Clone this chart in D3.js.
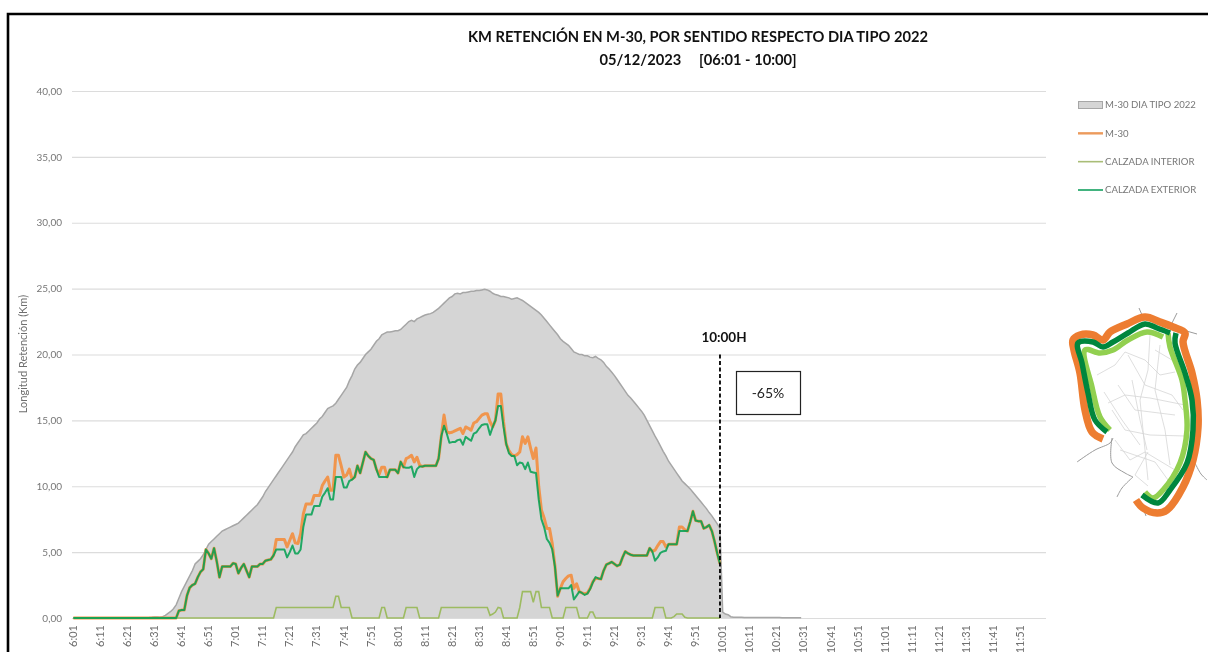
<!DOCTYPE html>
<html>
<head>
<meta charset="utf-8">
<script src="https://cdn.jsdelivr.net/npm/d3@7"></script>
<style>
  body { margin: 0; background: #fff; }
  svg { display: block; font-family: Lato, sans-serif; filter: blur(0.4px); }
</style>
</head>
<body>
<div id="chart"></div>
<script>
var width = 1208,
    height = 652;

// minute by minute from 6:01
var tipo2022 = [
  0,0,0,0,0,0,0,0,0,0,
  0,0,0,0,0,0,0,0,0,0,
  0,0,0,0,0,0,0,0.02,0.03,0.05,
  0.08,0.07,0.05,0.1,0.2,0.35,0.5,0.7,1.0,1.5,
  2.0,2.4,2.8,3.2,3.6,4.1,4.3,4.5,4.8,5.2,
  5.6,5.8,6.0,6.2,6.4,6.6,6.7,6.8,6.9,7.0,
  7.1,7.2,7.4,7.6,7.8,8.0,8.2,8.4,8.6,8.9,
  9.2,9.6,9.9,10.2,10.5,10.8,11.1,11.4,11.7,12.0,
  12.3,12.6,13.0,13.3,13.6,13.9,14.0,14.2,14.4,14.6,
  14.8,15.1,15.3,15.6,15.9,16.0,16.1,16.3,16.6,16.9,
  17.2,17.5,18.0,18.4,18.9,19.2,19.4,19.7,20.0,20.2,
  20.4,20.7,21.0,21.2,21.5,21.6,21.7,21.7,21.75,21.8,
  21.8,21.9,22.1,22.3,22.5,22.6,22.5,22.7,22.8,22.9,
  23.0,23.05,23.1,23.2,23.35,23.5,23.7,23.9,24.1,24.3,
  24.4,24.6,24.65,24.6,24.7,24.7,24.75,24.8,24.8,24.85,
  24.85,24.9,24.95,24.9,24.8,24.65,24.55,24.5,24.4,24.4,
  24.35,24.3,24.2,24.25,24.3,24.2,24.1,23.95,23.8,23.65,
  23.5,23.35,23.2,23.0,22.75,22.5,22.25,22.0,21.75,21.5,
  21.2,21.0,20.85,20.7,20.45,20.2,20.1,20.0,20.0,19.9,
  19.9,19.8,19.75,19.85,19.7,19.6,19.4,19.1,18.9,18.65,
  18.4,18.1,17.8,17.5,17.2,16.9,16.7,16.45,16.2,15.95,
  15.7,15.4,15.0,14.6,14.2,13.8,13.45,13.05,12.65,12.3,
  11.9,11.6,11.3,11.0,10.7,10.4,10.2,10.0,9.8,9.55,
  9.3,9.05,8.8,8.55,8.3,8.0,7.75,7.45,7.15,6.8,
  0.45,0.3,0.25,0.1,0.05,0.05,0.05,0.05,0.04,0.04,
  0.04,0.04,0.04,0.03,0.03,0.03,0.03,0.03,0.03,0.03,
  0.03,0.03,0.02,0.02,0.02,0.02,0.02,0.02,0.02,0.02
];
var m30 = [
  0,0,0,0,0,0,0,0,0,0,
  0,0,0,0,0,0,0,0,0,0,
  0,0,0,0,0,0,0,0,0,0,
  0,0,0,0,0,0,0,0,0,0.55,
  0.6,0.6,1.7,2.3,2.5,2.6,3.1,3.5,3.7,5.2,
  4.9,4.5,5.3,4.3,3.1,3.9,3.9,3.9,3.9,4.15,
  4.1,3.4,3.8,4.1,3.6,3.1,3.9,3.9,3.9,4.1,
  4.1,4.35,4.4,4.45,4.75,5.95,5.95,5.95,5.95,5.4,
  5.9,6.4,5.7,5.65,6.4,7.9,8.65,8.65,8.65,9.3,
  9.3,9.3,10.05,10.4,10.7,9.7,9.7,12.35,12.35,11.55,
  10.7,10.85,11.3,10.55,10.7,11.55,11.0,11.8,12.6,12.3,
  12.1,12.0,11.3,10.9,11.45,11.45,10.7,11.25,11.25,11.25,
  11.0,11.85,11.45,12.1,12.2,12.35,11.85,12.2,11.6,11.5,
  11.55,11.55,11.55,11.55,11.55,12.1,13.8,15.4,14.15,14.05,
  14.1,14.2,14.3,14.4,14.0,14.5,14.4,14.25,14.8,14.9,
  15.15,15.4,15.5,15.5,14.9,14.5,15.0,17.0,17.0,14.9,
  13.2,12.7,12.4,12.3,12.4,12.6,13.75,13.25,13.75,12.9,
  12.1,12.9,10.0,8.2,7.6,6.8,6.8,5.65,3.95,1.65,
  2.25,2.75,3.0,3.2,3.25,2.25,2.6,2.0,1.9,1.85,
  1.9,2.25,2.75,3.0,3.0,2.95,3.6,4.05,4.15,4.25,
  4.1,3.95,4.05,4.6,5.05,4.9,4.8,4.75,4.75,4.75,
  4.75,4.75,4.75,5.3,5.05,5.15,5.5,5.8,5.8,5.4,
  5.6,5.6,5.6,5.6,6.9,6.9,6.7,6.6,7.3,8.1,
  7.4,7.35,7.35,6.8,6.9,7.05,6.6,5.8,4.9,4.1
];
var interior = [
  0,0,0,0,0,0,0,0,0,0,
  0,0,0,0,0,0,0,0,0,0,
  0,0,0,0,0,0,0,0,0,0,
  0,0,0,0,0,0,0,0,0,0,
  0,0,0,0,0,0,0,0,0,0,
  0,0,0,0,0,0,0,0,0,0,
  0,0,0,0,0,0,0,0,0,0,
  0,0,0,0,0,0.8,0.8,0.8,0.8,0.8,
  0.8,0.8,0.8,0.8,0.8,0.8,0.8,0.8,0.8,0.8,
  0.8,0.8,0.8,0.8,0.8,0.8,0.8,1.65,1.65,0.8,
  0.8,0.8,0.8,0,0,0,0,0,0,0,
  0,0,0,0,0.8,0.8,0,0,0,0,
  0,0,0,0.8,0.8,0.8,0.8,0.8,0,0,
  0,0,0,0,0,0,0.8,0.8,0.8,0.8,
  0.8,0.8,0.8,0.8,0.8,0.8,0.8,0.8,0.8,0.8,
  0.8,0.8,0.8,0.8,0.2,0.3,0.45,0.8,0.75,0,
  0,0,0,0,0,0.8,2.0,2.0,2.0,2.0,
  1.2,2.0,2.0,0.8,0.8,0.8,0.8,0,0,0,
  0,0,0.8,0.8,0.8,0.8,0.8,0,0,0,
  0,0.45,0.45,0,0,0,0,0,0,0,
  0,0,0,0,0,0,0,0,0,0,
  0,0,0,0,0,0.8,0.8,0.8,0.8,0,
  0,0,0.1,0.3,0.3,0.3,0.05,0,0,0,
  0,0,0,0,0,0,0,0,0,0
];
var exterior = [
  0,0,0,0,0,0,0,0,0,0,
  0,0,0,0,0,0,0,0,0,0,
  0,0,0,0,0,0,0,0,0,0,
  0,0,0,0,0,0,0,0,0,0.55,
  0.6,0.6,1.7,2.3,2.5,2.6,3.1,3.5,3.7,5.2,
  4.9,4.5,5.3,4.3,3.1,3.9,3.9,3.9,3.9,4.15,
  4.1,3.4,3.8,4.1,3.6,3.1,3.9,3.9,3.9,4.1,
  4.1,4.35,4.4,4.45,4.75,5.2,5.2,5.2,5.2,4.6,
  5.0,5.5,4.9,4.9,5.2,6.9,7.85,7.85,7.85,8.5,
  8.5,8.5,9.2,9.5,9.85,9.0,9.0,10.7,10.7,10.7,
  9.9,9.9,10.4,10.5,10.7,11.55,11.0,11.8,12.6,12.3,
  12.1,12.0,11.3,10.7,10.7,10.7,10.7,11.25,11.25,11.25,
  11.0,11.85,11.45,11.4,11.4,11.5,10.7,11.3,11.5,11.5,
  11.55,11.55,11.55,11.55,11.55,12.1,13.8,14.6,14.0,13.3,
  13.35,13.35,13.5,13.55,13.15,13.75,13.6,13.45,14.0,14.1,
  14.4,14.65,14.7,14.7,13.9,14.5,15.0,16.1,16.1,14.5,
  13.2,12.5,12.3,12.3,11.6,11.8,11.75,11.3,11.8,11.1,
  11.05,11.0,9.0,7.5,6.9,6.0,5.7,5.2,3.9,1.7,
  2.25,2.25,2.25,2.25,2.5,1.4,1.7,2.0,1.9,1.75,
  1.85,2.2,2.7,3.1,3.0,2.95,3.6,4.05,4.15,4.25,
  4.1,3.95,4.05,4.6,5.05,4.9,4.8,4.75,4.75,4.75,
  4.75,4.75,4.75,5.3,5.05,4.35,4.6,4.95,5.05,5.1,
  5.6,5.6,5.6,5.6,6.6,6.6,6.6,6.6,7.3,8.1,
  7.4,7.35,7.35,6.8,6.9,7.05,6.6,5.8,4.9,4.1
];

var yTicks = [0, 5, 10, 15, 20, 25, 30, 35, 40];
var legendNames = ["M-30 DIA TIPO 2022", "M-30", "CALZADA INTERIOR", "CALZADA EXTERIOR"];
var titleLines = ["KM RETENCIÓN EN M-30, POR SENTIDO RESPECTO DIA TIPO 2022", "05/12/2023     [06:01 - 10:00]"];

// ring map on the right, outlines traced by hand
var mapOrange = [[1103,439],[1092,432],[1085,410],[1080,373],[1074,350],[1073,340],[1080,335],[1093,335],[1103,340],[1110,332],[1127,324],[1145,317],[1160,322],[1173,327],[1185,333],[1183,342],[1192,373],[1197,400],[1198,427],[1193,460],[1183,487],[1167,510],[1157,513],[1143,508],[1136,500]];
var mapDarkW = [[1107,432],[1095,420],[1088,393],[1082,363],[1078,343],[1093,342],[1103,347],[1113,342],[1128,333],[1145,324],[1157,328],[1170,333]];
var mapDarkE = [[1176,333],[1175,343],[1185,373],[1192,400],[1193,430],[1187,463],[1170,490],[1158,503],[1142,495]];
var mapLightW = [[1110,430],[1100,417],[1092,387],[1085,350],[1100,353],[1113,350],[1128,340],[1147,332],[1163,337]];
var mapLightE = [[1168,333],[1170,347],[1182,380],[1185,400],[1187,430],[1180,463],[1163,490],[1153,498],[1145,492]];
var roadsOut = [
  [[1077,462],[1095,450],[1110,443],[1113,438]],
  [[1195,463],[1201,474],[1207,480]],
  [[1117,497],[1122,488],[1133,477]],
  [[1112,438],[1112,463],[1125,473],[1133,477]],
  [[1139,308],[1142,315]],
  [[1177,313],[1172,323]],
  [[1183,330],[1197,334]],
  [[1143,508],[1146,516]]
];
var roadsIn = [
  [[1108,403],[1125,395],[1150,398],[1185,405]],
  [[1097,375],[1115,365],[1125,352],[1145,360],[1160,375],[1175,372]],
  [[1150,335],[1148,370],[1140,400],[1145,450],[1148,480]],
  [[1132,380],[1140,420],[1147,450]],
  [[1112,410],[1125,430],[1150,435],[1185,436]],
  [[1115,440],[1130,460],[1145,452],[1175,470]],
  [[1128,355],[1145,385],[1172,395],[1183,410]],
  [[1160,345],[1155,390],[1165,430],[1170,465]],
  [[1148,452],[1135,475],[1148,486]],
  [[1118,385],[1135,410],[1175,415]],
  [[1104,392],[1122,420],[1140,445]],
  [[1155,350],[1172,360]],
  [[1120,450],[1155,462],[1168,480]]
];

var minutes = d3.range(360).map(function (i) {
  var t = 361 + i;
  return Math.floor(t / 60) + ":" + d3.format("02")(t % 60);
});

var x = d3.scaleBand().domain(minutes).range([72, 1046]);
var y = d3.scaleLinear().domain([0, 40]).range([618, 91]);
var cx = function (d, i) { return x(minutes[i]) + x.bandwidth() / 2; };

var svg = d3.select("#chart").append("svg")
    .attr("width", width)
    .attr("height", height)
    .attr("viewBox", [0, 0, width, height]);

// frame, only left and top are in the picture
svg.append("path")
    .attr("d", "M8,652V14H1208")
    .attr("fill", "none")
    .attr("stroke", "#000")
    .attr("stroke-width", 2.6);

var yAxis = svg.append("g")
    .attr("transform", "translate(72,0)")
    .call(d3.axisLeft(y).tickValues(yTicks).tickSize(0).tickPadding(10)
        .tickFormat(function (d) { return d3.format(".2f")(d).replace(".", ","); }));
yAxis.select(".domain").remove();
yAxis.selectAll("text")
    .attr("font-family", "Lato, sans-serif")
    .attr("font-size", 10)
    .attr("fill", "#777");
yAxis.selectAll("line")
    .attr("x2", 974)
    .attr("stroke", "#dcdcdc")
    .attr("stroke-width", 1.2);

var xAxis = svg.append("g")
    .attr("transform", "translate(0,618)")
    .call(d3.axisBottom(x).tickValues(minutes.filter(function (d, i) { return i % 10 === 0; })).tickSize(0));
xAxis.select(".domain").remove();
xAxis.selectAll("text")
    .attr("font-family", "Lato, sans-serif")
    .attr("font-size", 11)
    .attr("fill", "#6f6f6f")
    .attr("text-anchor", "end")
    .attr("dy", "0.33em")
    .attr("y", 0)
    .attr("transform", "translate(0,7) rotate(-90)");

svg.append("path")
    .datum(tipo2022)
    .attr("fill", "#d5d5d5")
    .attr("d", d3.area().x(cx).y0(y(0)).y1(function (d) { return y(d); }));

svg.append("path")
    .datum(tipo2022)
    .attr("fill", "none")
    .attr("stroke", "#a6a6a6")
    .attr("stroke-width", 1.5)
    .attr("d", d3.line().x(cx).y(function (d) { return y(d); }));

var line = d3.line().x(cx).y(function (d) { return y(d); });

svg.append("path").datum(m30)
    .attr("fill", "none")
    .attr("stroke", "#f0954d")
    .attr("stroke-width", 3)
    .attr("stroke-linejoin", "round")
    .attr("d", line);

svg.append("path").datum(interior)
    .attr("fill", "none")
    .attr("stroke", "#9dbb61")
    .attr("stroke-width", 1.6)
    .attr("d", line);

svg.append("path").datum(exterior)
    .attr("fill", "none")
    .attr("stroke", "#00a050")
    .attr("stroke-opacity", 0.85)
    .attr("stroke-width", 2)
    .attr("stroke-linejoin", "round")
    .attr("d", line);

// 10:00 marker
var x10 = x("10:00") + x.bandwidth() / 2;
svg.append("line")
    .attr("x1", x10).attr("x2", x10)
    .attr("y1", y(20)).attr("y2", y(0))
    .attr("stroke", "#000")
    .attr("stroke-width", 1.8)
    .attr("stroke-dasharray", "4,2.5");

svg.append("text")
    .attr("x", 724).attr("y", 342)
    .attr("text-anchor", "middle")
    .attr("font-size", 13.5)
    .attr("font-weight", 700)
    .attr("fill", "#111")
    .text("10:00H");

svg.append("rect")
    .attr("x", 736.5).attr("y", 371.5)
    .attr("width", 64).attr("height", 43)
    .attr("fill", "#fff")
    .attr("stroke", "#222")
    .attr("stroke-width", 1.2);

svg.append("text")
    .attr("x", 768).attr("y", 398)
    .attr("text-anchor", "middle")
    .attr("font-size", 14)
    .attr("fill", "#222")
    .text("-65%");

svg.append("g")
    .attr("text-anchor", "middle")
    .attr("font-size", 14.7)
    .attr("font-weight", 700)
    .attr("fill", "#111")
    .selectAll("text")
    .data(titleLines)
    .join("text")
    .attr("xml:space", "preserve")
    .style("white-space", "pre")
    .attr("x", 698)
    .attr("y", function (d, i) { return 42 + i * 22.5; })
    .text(function (d) { return d; });

svg.append("text")
    .attr("transform", "translate(27,354) rotate(-90)")
    .attr("text-anchor", "middle")
    .attr("font-size", 11)
    .attr("fill", "#6f6f6f")
    .text("Longitud Retención (Km)");

// legend
var legendY = d3.scalePoint().domain(legendNames).range([105, 190]);
var legend = svg.append("g").selectAll("g")
    .data(legendNames)
    .join("g")
    .attr("transform", function (d) { return "translate(1078," + legendY(d) + ")"; });

legend.append("text")
    .attr("x", 27)
    .attr("dy", "0.35em")
    .attr("font-size", 9.6)
    .attr("fill", "#777")
    .text(function (d) { return d; });

legend.filter(function (d, i) { return i === 0; }).append("rect")
    .attr("x", 0.5).attr("y", -3.5)
    .attr("width", 24).attr("height", 7)
    .attr("fill", "#d5d5d5")
    .attr("stroke", "#a6a6a6")
    .attr("stroke-width", 1);

var legendStroke = ["", "#ec9a5c", "#a9bd77", "#13a05f"];
legend.filter(function (d, i) { return i > 0; }).append("line")
    .attr("x1", 0).attr("x2", 25)
    .attr("stroke", function (d) { return legendStroke[legendNames.indexOf(d)]; })
    .attr("stroke-width", function (d) { return d === "M-30" ? 2.4 : 1.6; });

// map
var curve = d3.line().curve(d3.curveCatmullRom.alpha(0.5));
var map = svg.append("g").attr("fill", "none");

map.selectAll(".road-in").data(roadsIn).join("path")
    .attr("class", "road-in")
    .attr("d", d3.line())
    .attr("stroke", "#d6d6d6")
    .attr("stroke-width", 0.8);

map.selectAll(".road-out").data(roadsOut).join("path")
    .attr("class", "road-out")
    .attr("d", curve)
    .attr("stroke", "#9a9a9a")
    .attr("stroke-width", 1);

map.append("path").datum(mapOrange)
    .attr("d", curve).attr("stroke", "#ed7d31").attr("stroke-width", 7.5);

[mapLightW, mapLightE].forEach(function (p) {
  map.append("path").datum(p)
      .attr("d", curve).attr("stroke", "#92d050").attr("stroke-width", 5.5);
});
[mapDarkW, mapDarkE].forEach(function (p) {
  map.append("path").datum(p)
      .attr("d", curve).attr("stroke", "#00863d").attr("stroke-width", 5.5);
});
</script>
</body>
</html>
